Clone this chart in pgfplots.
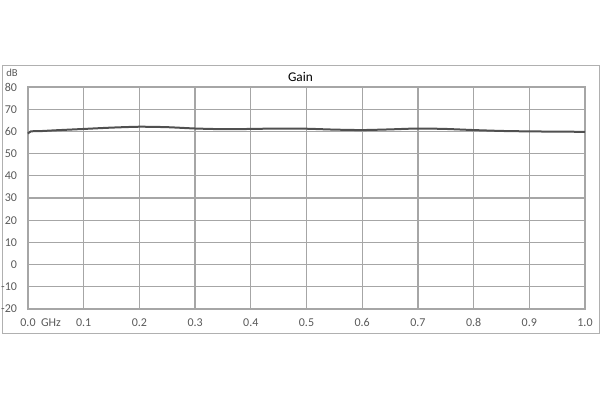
\documentclass[border=0pt]{standalone}
\usepackage{fontspec}
\setmainfont{Carlito}
\usepackage{pgfplots}
\pgfplotsset{compat=1.18}
\definecolor{gridgray}{HTML}{A6A6A6}
\definecolor{framegray}{HTML}{B0B0B0}
\definecolor{labgray}{HTML}{595959}
\definecolor{curve}{HTML}{505050}
\begin{document}
\begin{tikzpicture}[x=0.75pt,y=0.75pt]
% page is 600x400 px, 1px = 0.75pt
\useasboundingbox (0,0) rectangle (600,400);
\draw[framegray, line width=0.75pt] (2,66) rectangle (599,334);
\begin{axis}[
    at={(21pt,68.25pt)}, anchor=south west,
    scale only axis, width=417.75pt, height=166.5pt,
    xmin=0, xmax=1, ymin=-20, ymax=80,
    xtick={0,0.1,...,1.0}, ytick={-20,-10,...,80},
    x tick label style={/pgf/number format/fixed, /pgf/number format/fixed zerofill, /pgf/number format/precision=1, yshift=-7pt},
    /pgf/number format/assume math mode=true,
    tick style={draw=none},
    grid=major, major grid style={gridgray, line width=1pt},
    axis line style={gridgray, line width=1pt},
    tick label style={font=\fontsize{9}{10}\selectfont, text=labgray, inner sep=0pt},
    y tick label style={xshift=-8pt},
    clip=false,
]
\addplot[curve, line width=1.5pt, smooth, tension=0.4] coordinates {
(0.000,59.0) (0.005,60.0) (0.02,60.1) (0.05,60.5) (0.10,61.1) (0.15,61.7)
(0.20,62.1) (0.25,61.9) (0.30,61.3) (0.35,61.0) (0.40,61.1) (0.45,61.3)
(0.50,61.2) (0.55,60.8) (0.60,60.6) (0.65,60.9) (0.70,61.3) (0.75,61.1)
(0.80,60.6) (0.85,60.2) (0.90,60.0) (0.95,59.9) (1.00,59.8)
};
\end{axis}
\node[font=\fontsize{10}{12}\selectfont] at (300.5,323) {Gain};
\node[font=\fontsize{8}{10}\selectfont, text=labgray] at (12,327) {dB};
\node[font=\fontsize{9}{10}\selectfont, text=labgray] at (51,77) {GHz};
\end{tikzpicture}
\end{document}
